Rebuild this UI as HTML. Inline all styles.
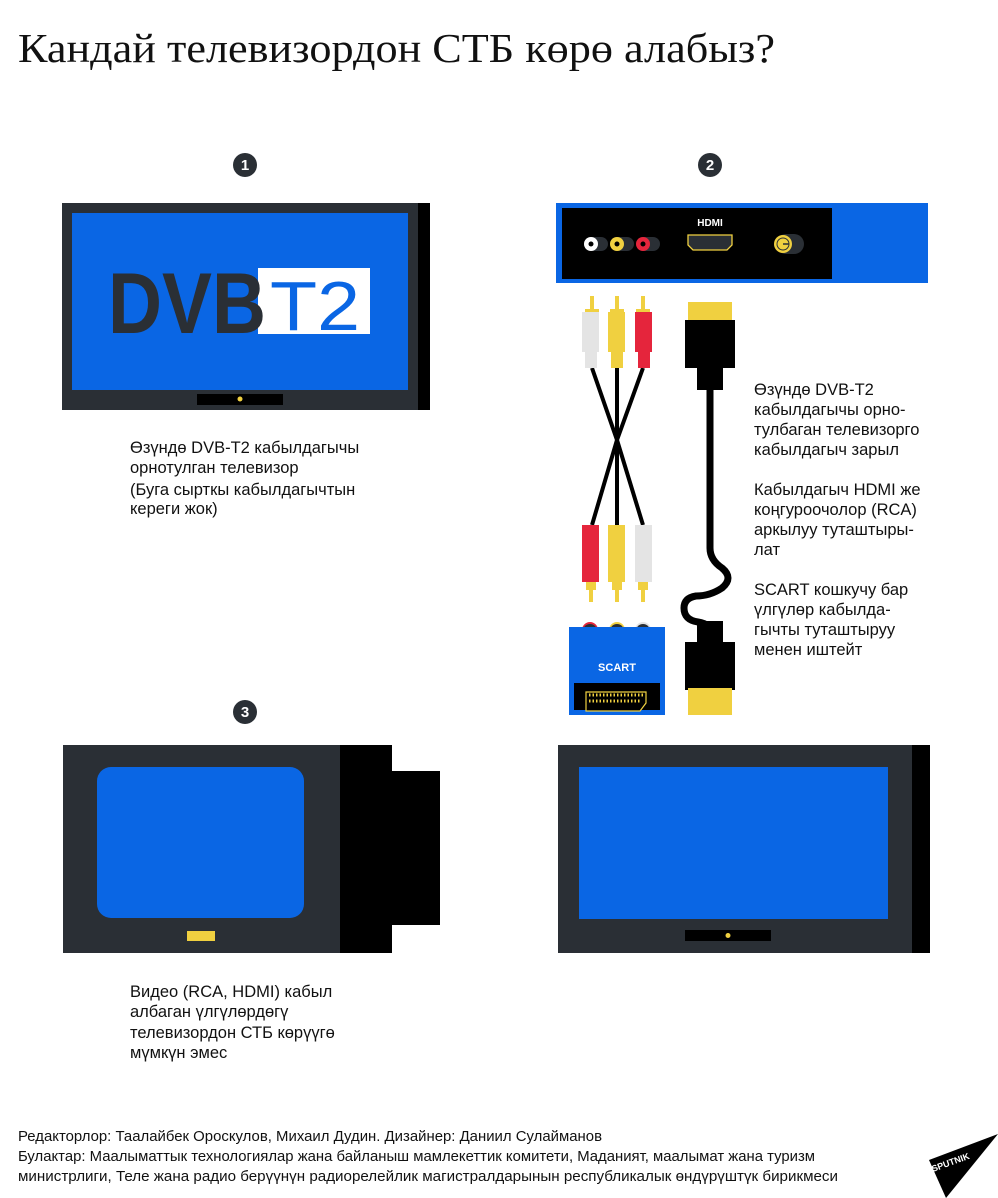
<!DOCTYPE html>
<html><head><meta charset="utf-8"><style>
html,body{margin:0;padding:0;background:#fff;}
svg{display:block;}
</style></head><body>
<svg width="998" height="1198" viewBox="0 0 998 1198" xmlns="http://www.w3.org/2000/svg" font-family="Liberation Sans, sans-serif">
<text x="18" y="62" font-family="Liberation Serif, serif" font-size="41" fill="#111" textLength="757" lengthAdjust="spacingAndGlyphs">Кандай телевизордон СТБ көрө алабыз?</text>

<g font-weight="bold" font-size="15" fill="#fff" text-anchor="middle">
<circle cx="245" cy="165" r="12" fill="#2a2f35"/><text x="245" y="170">1</text>
<circle cx="710" cy="165" r="12" fill="#2a2f35"/><text x="710" y="170">2</text>
<circle cx="245" cy="712" r="12" fill="#2a2f35"/><text x="245" y="717">3</text>
</g>

<rect x="62" y="203" width="356" height="207" fill="#2a2f35"/>
<rect x="418" y="203" width="12" height="207" fill="#000"/>
<rect x="72" y="213" width="336" height="177" fill="#0a66e4"/>
<rect x="197" y="394" width="86" height="11" fill="#000"/>
<circle cx="240" cy="399" r="2.5" fill="#f0d040"/>
<rect x="258" y="268" width="112" height="66" fill="#fff"/>
<text x="108" y="333" font-size="86" font-weight="bold" fill="#2a2f35" textLength="158" lengthAdjust="spacingAndGlyphs">DVB</text>
<text x="270" y="330" font-size="70" fill="#0a66e4" textLength="90" lengthAdjust="spacingAndGlyphs">T2</text>

<g font-size="16.5" fill="#111">
<text x="130" y="453">Өзүндө DVB-T2 кабылдагычы</text>
<text x="130" y="473">орнотулган телевизор</text>
<text x="130" y="495">(Буга сырткы кабылдагычтын</text>
<text x="130" y="514">кереги жок)</text>
</g>

<rect x="556" y="203" width="372" height="80" fill="#0a66e4"/>
<rect x="562" y="208" width="270" height="71" fill="#000"/>
<text x="710" y="226" font-size="10" font-weight="bold" fill="#fff" text-anchor="middle">HDMI</text>
<g>
<rect x="586" y="237" width="22" height="14" rx="7" fill="#2a2f35"/><circle cx="591" cy="244" r="7" fill="#fff"/><circle cx="591" cy="244" r="2.5" fill="#000"/>
<rect x="612" y="237" width="22" height="14" rx="7" fill="#2a2f35"/><circle cx="617" cy="244" r="7" fill="#f0d040"/><circle cx="617" cy="244" r="2.5" fill="#000"/>
<rect x="638" y="237" width="22" height="14" rx="7" fill="#2a2f35"/><circle cx="643" cy="244" r="7" fill="#e5253c"/><circle cx="643" cy="244" r="2.5" fill="#000"/>
<path d="M688 235 H732 V245 L727 250 H693 L688 245 Z" fill="#2a2f35" stroke="#f0d040" stroke-width="1.3"/>
<rect x="776" y="234" width="28" height="20" rx="10" fill="#2a2f35"/>
<circle cx="783" cy="244" r="9" fill="#f0d040"/><circle cx="783" cy="244" r="6.5" fill="#2a2f35"/><circle cx="783" cy="244" r="5.5" fill="#f0d040"/><line x1="783" y1="244" x2="789" y2="244" stroke="#2a2f35" stroke-width="1.5"/>
</g>

<g stroke="#000" stroke-width="4" fill="none">
<path d="M592 368 L617 440 L592 525"/>
<path d="M617 368 L617 525"/>
<path d="M643 368 L617 440 L643 525"/>
</g>
<g>
<rect x="590" y="296" width="4" height="20" fill="#f0d040"/><rect x="585" y="309" width="14" height="8" fill="#f0d040"/>
<rect x="615" y="296" width="4" height="20" fill="#f0d040"/><rect x="610" y="309" width="14" height="8" fill="#f0d040"/>
<rect x="641" y="296" width="4" height="20" fill="#f0d040"/><rect x="636" y="309" width="14" height="8" fill="#f0d040"/>
<rect x="582" y="312" width="17" height="40" fill="#e4e4e4"/><rect x="585" y="350" width="12" height="18" fill="#e4e4e4"/>
<rect x="608" y="312" width="17" height="40" fill="#f0d040"/><rect x="611" y="350" width="12" height="18" fill="#f0d040"/>
<rect x="635" y="312" width="17" height="40" fill="#e5253c"/><rect x="638" y="350" width="12" height="18" fill="#e5253c"/>
<rect x="582" y="525" width="17" height="57" fill="#e5253c"/>
<rect x="608" y="525" width="17" height="57" fill="#f0d040"/>
<rect x="635" y="525" width="17" height="57" fill="#e4e4e4"/>
<rect x="586" y="582" width="10" height="8" fill="#f0d040"/><rect x="589" y="588" width="4" height="14" fill="#f0d040"/>
<rect x="612" y="582" width="10" height="8" fill="#f0d040"/><rect x="615" y="588" width="4" height="14" fill="#f0d040"/>
<rect x="638" y="582" width="10" height="8" fill="#f0d040"/><rect x="641" y="588" width="4" height="14" fill="#f0d040"/>
</g>
<circle cx="590" cy="630" r="8" fill="#e5253c"/><rect x="582" y="630" width="16" height="10" fill="#2a2f35"/><circle cx="590" cy="631" r="7" fill="#2a2f35"/>
<circle cx="617" cy="630" r="8" fill="#f0d040"/><rect x="609" y="630" width="16" height="10" fill="#2a2f35"/><circle cx="617" cy="631" r="7" fill="#2a2f35"/>
<circle cx="643" cy="630" r="8" fill="#e4e4e4"/><rect x="635" y="630" width="16" height="10" fill="#2a2f35"/><circle cx="643" cy="631" r="7" fill="#2a2f35"/>
<rect x="569" y="627" width="96" height="88" fill="#0a66e4"/>
<text x="617" y="671" font-size="11" font-weight="bold" fill="#fff" text-anchor="middle">SCART</text>
<rect x="574" y="683" width="86" height="27" fill="#000"/>
<path d="M586 692 H646 V703 L640 711 H586 Z" fill="#000" stroke="#f0d040" stroke-width="1.2"/>
<path d="M589 695 H643 M589 701 H641" stroke="#f0d040" stroke-width="3" stroke-dasharray="1.5 2"/>

<path d="M710 390 V548 Q710 560 722 568 Q734 578 722 588 Q710 596 696 596 Q684 598 684 608 Q684 620 698 622 Q710 624 710 632" stroke="#000" stroke-width="7" fill="none"/>
<rect x="688" y="302" width="44" height="20" fill="#f0d040"/>
<rect x="685" y="320" width="50" height="48" fill="#000"/>
<rect x="697" y="366" width="26" height="24" fill="#000"/>
<rect x="697" y="621" width="26" height="24" fill="#000"/>
<rect x="685" y="642" width="50" height="48" fill="#000"/>
<rect x="688" y="688" width="44" height="27" fill="#f0d040"/>

<g font-size="16.5" fill="#111">
<text x="754" y="395">Өзүндө DVB-T2</text>
<text x="754" y="415">кабылдагычы орно-</text>
<text x="754" y="435">тулбаган телевизорго</text>
<text x="754" y="455">кабылдагыч зарыл</text>
<text x="754" y="495">Кабылдагыч HDMI же</text>
<text x="754" y="515">коңгуроочолор (RCA)</text>
<text x="754" y="535">аркылуу туташтыры-</text>
<text x="754" y="555">лат</text>
<text x="754" y="595">SCART кошкучу бар</text>
<text x="754" y="615">үлгүлөр кабылда-</text>
<text x="754" y="635">гычты туташтыруу</text>
<text x="754" y="655">менен иштейт</text>
</g>

<rect x="63" y="745" width="277" height="208" fill="#2a2f35"/>
<rect x="340" y="745" width="52" height="208" fill="#000"/>
<rect x="390" y="771" width="50" height="154" fill="#000"/>
<rect x="97" y="767" width="207" height="151" rx="14" fill="#0a66e4"/>
<rect x="187" y="931" width="28" height="10" fill="#f0d040"/>
<g font-size="16.5" fill="#111">
<text x="130" y="997">Видео (RCA, HDMI) кабыл</text>
<text x="130" y="1017">албаган үлгүлөрдөгү</text>
<text x="130" y="1038">телевизордон СТБ көрүүгө</text>
<text x="130" y="1058">мүмкүн эмес</text>
</g>

<rect x="558" y="745" width="354" height="208" fill="#2a2f35"/>
<rect x="912" y="745" width="18" height="208" fill="#000"/>
<rect x="579" y="767" width="309" height="152" fill="#0a66e4"/>
<rect x="685" y="930" width="86" height="11" fill="#000"/>
<circle cx="728" cy="935.5" r="2.5" fill="#f0d040"/>

<g font-size="14.5" fill="#111">
<text x="18" y="1141" textLength="584" lengthAdjust="spacingAndGlyphs">Редакторлор: Таалайбек Ороскулов, Михаил Дудин. Дизайнер: Даниил Сулайманов</text>
<text x="18" y="1161" textLength="797" lengthAdjust="spacingAndGlyphs">Булактар: Маалыматтык технологиялар жана байланыш мамлекеттик комитети, Маданият, маалымат жана туризм</text>
<text x="18" y="1181" textLength="820" lengthAdjust="spacingAndGlyphs">министрлиги, Теле жана радио берүүнүн радиорелейлик магистралдарынын республикалык өндүрүштүк бирикмеси</text>
</g>
<polygon points="929,1160 998,1134 946,1198" fill="#000"/>
<text x="933" y="1172" font-size="9" font-weight="bold" fill="#fff" transform="rotate(-20 933 1172)">SPUTNIK</text>
</svg>
</body></html>
